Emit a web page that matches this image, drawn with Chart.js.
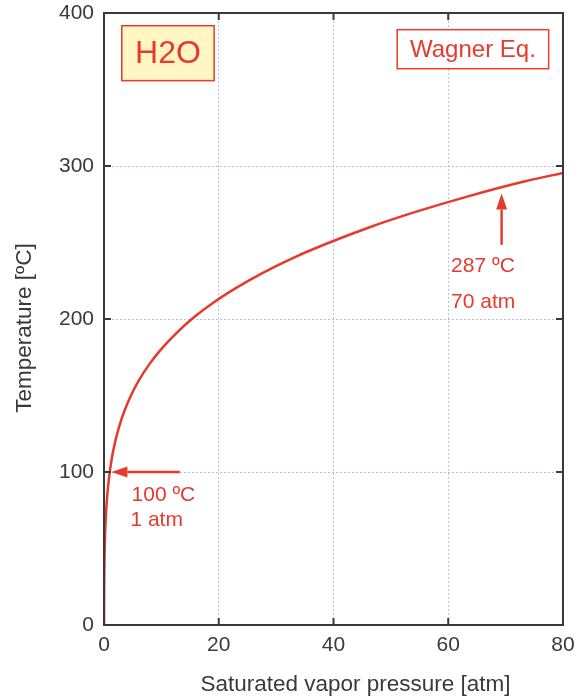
<!DOCTYPE html>
<html>
<head>
<meta charset="utf-8">
<script src="https://cdn.jsdelivr.net/npm/chart.js@4"></script>
<style>
  html, body { margin: 0; padding: 0; background: #fff; }
  #chart { display: block; }
</style>
</head>
<body>
<canvas id="chart" width="585" height="699"></canvas>
<script>
// saturated vapor pressure of water [atm] and matching temperature [°C]
const pressures = [0.006, 0.012, 0.023, 0.042, 0.073, 0.122, 0.197, 0.308, 0.467, 0.692, 1.0, 1.41, 1.96, 2.67, 3.57, 4.70, 6.10, 7.82, 9.90, 12.4, 15.3, 18.8, 22.9, 27.6, 33.0, 39.3, 46.3, 54.3, 63.3, 73.4, 80.0];
const temps = [0, 10, 20, 30, 40, 50, 60, 70, 80, 90, 100, 110, 120, 130, 140, 150, 160, 170, 180, 190, 200, 210, 220, 230, 240, 250, 260, 270, 280, 290, 295.5];
const xTicks = [0, 20, 40, 60, 80];
const yTicks = [0, 100, 200, 300, 400];

const RED = '#e63a2e';
const AXIS = '#3a3a3a';
const GRID = '#b9bee2';
const FONT = 'Liberation Sans, Arial, sans-serif';
const xTitle = 'Saturated vapor pressure [atm]';
const yTitle = 'Temperature [ºC]';

// boxes and arrows, in data units
const labelBoxes = [
  { text: 'H2O', x1: 3.1, x2: 19.2, y1: 355.8, y2: 391.7, fill: '#fff6c4', size: 32 },
  { text: 'Wagner Eq.', x1: 51.1, x2: 77.5, y1: 363.6, y2: 389.1, fill: '#ffffff', size: 24 }
];
const arrows = [
  { from: [13.2, 100], to: [1.3, 100] },
  { from: [69.3, 248.5], to: [69.3, 282] }
];
const notes = [
  { text: '100 ºC', x: 4.8, y: 81 },
  { text: '1 atm', x: 4.6, y: 64.8 },
  { text: '287 ºC', x: 60.5, y: 230.6 },
  { text: '70 atm', x: 60.5, y: 207.4 }
];

const points = pressures.map((p, i) => ({ x: p, y: temps[i] }));

const frame = {
  id: 'frame',
  afterDatasetsDraw(chart) {
    const { ctx, chartArea: a, scales: { x, y } } = chart;
    ctx.save();
    // frame + inward ticks
    ctx.strokeStyle = AXIS;
    ctx.lineWidth = 2;
    ctx.strokeRect(a.left, a.top, a.right - a.left, a.bottom - a.top);
    ctx.beginPath();
    xTicks.slice(1, -1).forEach(v => {
      const px = x.getPixelForValue(v);
      ctx.moveTo(px, a.bottom); ctx.lineTo(px, a.bottom - 7);
      ctx.moveTo(px, a.top); ctx.lineTo(px, a.top + 7);
    });
    yTicks.slice(1, -1).forEach(v => {
      const py = y.getPixelForValue(v);
      ctx.moveTo(a.left, py); ctx.lineTo(a.left + 7, py);
      ctx.moveTo(a.right, py); ctx.lineTo(a.right - 7, py);
    });
    ctx.stroke();

    // axis titles
    ctx.fillStyle = AXIS;
    ctx.font = '22.5px ' + FONT;
    ctx.textAlign = 'center';
    ctx.textBaseline = 'middle';
    ctx.fillText(xTitle, (a.left + a.right) / 2 + 22, 685);
    ctx.save();
    ctx.translate(25, (a.top + a.bottom) / 2 + 9);
    ctx.rotate(-Math.PI / 2);
    ctx.fillText(yTitle, 0, 0);
    ctx.restore();

    // label boxes
    labelBoxes.forEach(b => {
      const l = x.getPixelForValue(b.x1), r = x.getPixelForValue(b.x2);
      const t = y.getPixelForValue(b.y2), bt = y.getPixelForValue(b.y1);
      ctx.fillStyle = b.fill;
      ctx.fillRect(l, t, r - l, bt - t);
      ctx.strokeStyle = RED;
      ctx.lineWidth = 1.5;
      ctx.strokeRect(l, t, r - l, bt - t);
      ctx.fillStyle = RED;
      ctx.font = b.size + 'px ' + FONT;
      ctx.textAlign = 'center';
      ctx.textBaseline = 'middle';
      ctx.fillText(b.text, (l + r) / 2, (t + bt) / 2 + 1);
    });

    // arrows
    ctx.strokeStyle = RED;
    ctx.fillStyle = RED;
    ctx.lineWidth = 2.5;
    arrows.forEach(ar => {
      const x0 = x.getPixelForValue(ar.from[0]), y0 = y.getPixelForValue(ar.from[1]);
      const x1 = x.getPixelForValue(ar.to[0]), y1 = y.getPixelForValue(ar.to[1]);
      const ang = Math.atan2(y1 - y0, x1 - x0);
      const hl = 16, hw = 5.5;
      const bx = x1 - hl * Math.cos(ang), by = y1 - hl * Math.sin(ang);
      ctx.beginPath();
      ctx.moveTo(x0, y0); ctx.lineTo(bx, by);
      ctx.stroke();
      ctx.beginPath();
      ctx.moveTo(x1, y1);
      ctx.lineTo(bx + hw * Math.sin(ang), by - hw * Math.cos(ang));
      ctx.lineTo(bx - hw * Math.sin(ang), by + hw * Math.cos(ang));
      ctx.closePath();
      ctx.fill();
    });

    // notes
    ctx.font = '21px ' + FONT;
    ctx.textAlign = 'left';
    ctx.textBaseline = 'alphabetic';
    notes.forEach(n => ctx.fillText(n.text, x.getPixelForValue(n.x), y.getPixelForValue(n.y)));
    ctx.restore();
  }
};

new Chart(document.getElementById('chart'), {
  type: 'scatter',
  data: {
    datasets: [{
      data: points,
      showLine: true,
      borderColor: RED,
      borderWidth: 2.5,
      pointRadius: 0,
      tension: 0.3,
      cubicInterpolationMode: 'monotone'
    }]
  },
  options: {
    responsive: false,
    animation: false,
    devicePixelRatio: 1,
    layout: { padding: { top: 13, right: 22, left: 0, bottom: 0 } },
    plugins: { legend: { display: false }, tooltip: { enabled: false } },
    scales: {
      x: {
        type: 'linear', min: 0, max: 80,
        afterBuildTicks: s => { s.ticks = xTicks.map(v => ({ value: v })); },
        afterFit: s => { s.height = 74; s.paddingLeft = 0; s.paddingRight = 0; },
        border: { display: false, dash: [2, 2] },
        grid: {
          drawTicks: false,
          color: c => (c.tick.value === 0 || c.tick.value === 80) ? 'rgba(0,0,0,0)' : GRID,
          lineWidth: 1
        },
        ticks: { color: AXIS, padding: 8, font: { family: FONT, size: 21 } }
      },
      y: {
        type: 'linear', min: 0, max: 400,
        afterBuildTicks: s => { s.ticks = yTicks.map(v => ({ value: v })); },
        afterFit: s => { s.width = 104; s.paddingTop = 0; s.paddingBottom = 0; },
        border: { display: false, dash: [2, 2] },
        grid: {
          drawTicks: false,
          color: c => (c.tick.value === 0 || c.tick.value === 400) ? 'rgba(0,0,0,0)' : GRID,
          lineWidth: 1
        },
        ticks: { color: AXIS, padding: 10, font: { family: FONT, size: 21 } }
      }
    }
  },
  plugins: [frame]
});
</script>
</body>
</html>
